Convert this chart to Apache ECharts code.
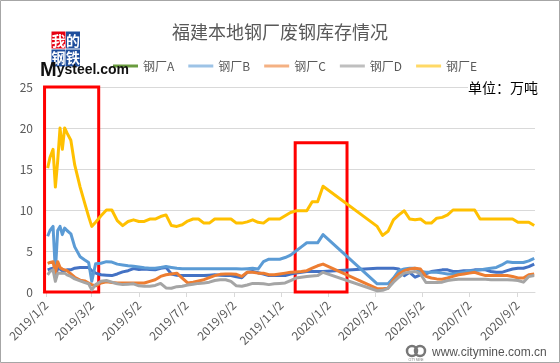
<!DOCTYPE html>
<html><head><meta charset="utf-8">
<script src="https://cdn.jsdelivr.net/npm/echarts@6/dist/echarts.min.js"></script>
<style>html,body{margin:0;padding:0;background:#fff}#c{width:560px;height:363px}</style>
</head><body><div id="c"></div>
<script>
const dates = [
 '2019-01-04','2019-01-07','2019-01-11','2019-01-14','2019-01-17','2019-01-20','2019-01-23','2019-01-26','2019-01-29','2019-02-03','2019-02-08','2019-02-15','2019-02-21','2019-02-26','2019-03-02',
 '2019-03-07','2019-03-14','2019-03-21','2019-03-28','2019-04-04','2019-04-11','2019-04-18','2019-04-25','2019-05-02','2019-05-09','2019-05-16','2019-05-23','2019-05-30','2019-06-06','2019-06-13','2019-06-20','2019-06-27','2019-07-04','2019-07-11','2019-07-18','2019-07-25','2019-08-01','2019-08-08','2019-08-15','2019-08-22','2019-08-29','2019-09-05','2019-09-12','2019-09-19','2019-09-26','2019-10-03','2019-10-10','2019-10-17','2019-10-24','2019-10-31','2019-11-07','2019-11-14','2019-11-21','2019-11-28','2019-12-05','2019-12-12','2019-12-19','2019-12-26',
 '2020-03-05','2020-03-12','2020-03-19','2020-03-26','2020-04-02','2020-04-09','2020-04-16','2020-04-23','2020-04-30','2020-05-07','2020-05-14','2020-05-21','2020-05-28','2020-06-04','2020-06-11','2020-06-18','2020-06-25','2020-07-02','2020-07-09','2020-07-16','2020-07-23','2020-07-30','2020-08-06','2020-08-13','2020-08-20','2020-08-27','2020-09-03','2020-09-10','2020-09-17','2020-09-24'
];
const seriesNames = ['钢厂A','钢厂B','钢厂C','钢厂D','钢厂E'];
const millA = [
 2.7,2.8,2.9,1.9,2.9,2.8,2.6,2.6,2.7,2.7,2.9,3.0,3.0,3.0,2.6,
 2.3,2.1,2.05,2.0,2.2,2.45,2.6,2.85,2.75,2.8,2.75,2.7,2.9,3.0,2.2,2.05,2.0,2.0,2.0,2.0,2.0,2.05,2.1,2.05,2.0,2.0,1.85,1.75,2.4,2.5,2.35,2.2,2.0,2.0,2.0,2.0,2.2,2.3,2.4,2.5,2.5,2.5,2.5,
 2.9,2.9,2.9,2.9,2.8,2.0,2.4,1.8,2.1,2.2,2.5,2.6,2.7,2.7,2.5,2.5,2.6,2.6,2.7,2.7,2.7,2.5,2.4,2.4,2.6,2.8,2.9,2.9,3.1,3.4
];
const millB = [
 6.8,7.5,8.0,2.5,7.5,8.0,7.0,7.8,7.5,7.1,5.5,4.3,3.9,3.6,1.3,
 3.45,3.5,3.7,3.65,3.4,3.3,3.2,3.15,3.05,2.95,2.9,2.9,3.0,3.1,3.0,2.9,2.85,2.85,2.85,2.85,2.85,2.85,2.85,2.85,2.85,2.85,2.85,2.8,2.85,2.9,2.8,3.7,4.0,4.0,4.0,4.2,4.5,5.0,5.5,6.0,6.0,6.0,7.0,
 1.0,1.0,1.0,1.7,2.6,2.8,2.9,2.9,2.5,2.4,2.4,2.4,2.3,2.2,2.2,2.3,2.4,2.6,2.6,2.7,2.8,2.9,3.0,3.3,3.7,3.6,3.6,3.6,3.8,4.1
];
const millC = [
 3.5,3.6,3.7,2.3,3.7,3.0,2.8,2.7,2.6,2.2,1.8,1.45,1.35,1.1,0.9,
 0.75,1.1,1.25,1.15,1.1,1.1,1.1,1.1,1.1,1.1,1.3,1.5,1.9,2.1,2.2,2.3,1.7,1.1,1.2,1.35,1.5,1.75,2.0,2.15,2.2,2.2,2.15,1.9,2.4,2.4,2.3,2.3,2.1,2.1,2.2,2.3,2.4,2.45,2.5,2.6,2.9,3.2,3.4,
 0.4,0.4,0.45,1.5,2.2,2.6,2.8,2.9,2.8,1.9,1.7,1.6,1.55,1.7,1.9,2.1,2.2,2.3,2.4,2.2,2.0,2.0,2.0,2.0,2.0,1.9,1.7,1.7,2.1,2.2
];
const millD = [
 2.1,2.5,2.7,1.3,2.3,2.3,2.3,2.3,2.1,1.9,1.6,1.35,1.15,1.0,0.25,
 0.9,1.3,1.4,1.2,1.0,0.9,0.95,1.0,0.75,0.7,0.7,0.8,1.05,0.5,0.45,0.65,0.7,0.85,0.95,1.05,1.1,1.2,1.4,1.5,1.5,1.3,0.75,0.7,0.85,1.05,1.05,1.0,0.9,1.0,1.05,1.1,1.4,1.7,1.8,1.9,1.95,2.0,2.4,
 0.15,0.2,0.45,1.2,1.8,2.3,2.4,2.5,2.2,1.15,1.15,1.15,1.2,1.4,1.5,1.55,1.55,1.55,1.55,1.55,1.55,1.5,1.5,1.5,1.5,1.45,1.4,1.2,1.9,2.0
];
const millE = [
 15.1,16.4,17.4,12.8,16.0,20.0,17.4,20.0,19.4,18.5,15.5,12.8,10.8,9.2,8.0,
 8.5,9.3,10.0,10.0,8.7,8.1,8.6,8.8,8.6,8.6,8.9,8.9,9.2,9.4,8.1,8.0,8.2,8.65,8.9,8.9,8.4,8.4,8.9,8.9,8.9,8.9,8.4,8.4,8.55,8.8,8.5,8.4,8.9,8.9,8.9,9.3,9.7,9.9,9.9,9.9,11.0,11.0,12.9,
 8.0,6.9,7.4,8.8,9.4,9.9,8.9,8.8,8.9,8.4,8.4,9.0,9.1,9.4,10.0,10.0,10.0,10.0,10.0,8.9,8.9,8.9,8.9,8.9,8.9,8.9,8.5,8.5,8.5,8.1
];
const tickLabels = ['2019/1/2','2019/3/2','2019/5/2','2019/7/2','2019/9/2','2019/11/2','2020/1/2','2020/3/2','2020/5/2','2020/7/2','2020/9/2'];
const yTicks = [0,5,10,15,20,25];

const lineColors = ['#4472C4','#5B9BD5','#ED7D31','#A5A5A5','#FFC000'];
const legendColors = ['#6A9C3F','#9DC3E6','#F4B183','#BFBFBF','#FFD966'];
const values = [millA, millB, millC, millD, millE];

const chart = echarts.init(document.getElementById('c'), null, {renderer:'canvas'});
const ts = s => echarts.number.parseDate(s.replace(/\//g,'-')).getTime();
const tickValues = tickLabels.map(ts);
const FONT = '"Noto Sans CJK SC", "Noto Sans", sans-serif';

const series = seriesNames.map((n, i) => ({
  name: n, type: 'line', showSymbol: false, symbol: 'none',
  data: dates.map((d, j) => [ts(d), values[i][j]]),
  lineStyle: {color: lineColors[i], width: 3, join: 'round'},
  itemStyle: {color: lineColors[i]},
  z: 2 + i,
  animation: false
}));
series[4].clip = false;
series[4].markArea = {
  silent: true,
  label: {show: false},
  itemStyle: {color: 'rgba(0,0,0,0)', borderColor: '#FF0000', borderWidth: 3},
  data: [
    [{xAxis: ts('2018-12-31'), yAxis: 25.2}, {xAxis: ts('2019-03-11'), yAxis: 0}],
    [{xAxis: ts('2019-11-20'), yAxis: 18.2}, {xAxis: ts('2020-01-26'), yAxis: 0}]
  ]
};

chart.setOption({
  animation: false,
  backgroundColor: '#fff',
  title: {
    text: '福建本地钢厂废钢库存情况', left: 'center', top: 23, padding: 0,
    textStyle: {fontSize: 18, fontWeight: 'normal', color: '#595959', fontFamily: FONT}
  },
  legend: {
    left: 113, top: 60, padding: 0, icon: 'rect', itemWidth: 25, itemHeight: 3, itemGap: 14,
    textStyle: {fontSize: 12, color: '#595959', fontFamily: FONT},
    data: seriesNames.map((n, i) => ({name: n, itemStyle: {color: legendColors[i]}, lineStyle: {color: legendColors[i]}}))
  },
  grid: {left: 43, right: 25, top: 87, bottom: 71, containLabel: false},
  xAxis: {
    type: 'value', min: ts('2018-12-29'), max: ts('2020-09-25'),
    axisLine: {show: true, lineStyle: {color: '#D9D9D9', width: 1}},
    axisTick: {show: true, customValues: tickValues, length: 5, lineStyle: {color: '#D9D9D9'}},
    splitLine: {show: false},
    axisLabel: {
      customValues: tickValues, rotate: 45, margin: 11, fontSize: 12, color: '#595959', fontFamily: FONT,
      formatter: function (v) { const d = new Date(v); return d.getFullYear() + '/' + (d.getMonth() + 1) + '/' + d.getDate(); }
    }
  },
  yAxis: {
    type: 'value', min: yTicks[0], max: yTicks[yTicks.length - 1], interval: 5,
    axisLine: {show: false}, axisTick: {show: false},
    splitLine: {lineStyle: {color: '#D9D9D9', width: 1}},
    axisLabel: {margin: 10, fontSize: 12, color: '#595959', fontFamily: FONT}
  },
  graphic: [
    {type: 'rect', shape: {x: 0.5, y: 0.5, width: 559, height: 362}, style: {fill: 'none', stroke: '#A6A6A6', lineWidth: 1}, z: 100},
    {type: 'text', left: 468, top: 81, style: {text: '单位：万吨', fontSize: 14, fill: '#000', fontFamily: FONT, backgroundColor: '#fff'}, z: 50},
    {type: 'rect', shape: {x: 51.5, y: 31.5, width: 14, height: 17}, style: {fill: '#E60012'}, z: 60},
    {type: 'rect', shape: {x: 66, y: 31.5, width: 14, height: 17}, style: {fill: '#1F4E9C'}, z: 60},
    {type: 'rect', shape: {x: 51.5, y: 49.5, width: 14, height: 17}, style: {fill: '#1F4E9C'}, z: 60},
    {type: 'rect', shape: {x: 66, y: 49.5, width: 14, height: 17}, style: {fill: '#1F4E9C'}, z: 60},
    {type: 'text', x: 58.5, y: 40.5, style: {text: '我', fontSize: 14, fontWeight: 'bold', fill: '#fff', align: 'center', verticalAlign: 'middle', fontFamily: FONT}, z: 61},
    {type: 'text', x: 73, y: 40.5, style: {text: '的', fontSize: 14, fontWeight: 'bold', fill: '#fff', align: 'center', verticalAlign: 'middle', fontFamily: FONT}, z: 61},
    {type: 'text', x: 58.5, y: 58, style: {text: '钢', fontSize: 14, fontWeight: 'bold', fill: '#fff', align: 'center', verticalAlign: 'middle', fontFamily: FONT}, z: 61},
    {type: 'text', x: 73, y: 58, style: {text: '铁', fontSize: 14, fontWeight: 'bold', fill: '#fff', align: 'center', verticalAlign: 'middle', fontFamily: FONT}, z: 61},
    {type: 'text', x: 40, y: 80, style: {
      text: '{a|M}{b|ysteel.com}', verticalAlign: 'bottom',
      rich: {a: {fontSize: 20, fontWeight: 'bold', fill: '#111', fontFamily: 'Liberation Sans'}, b: {fontSize: 14, fontWeight: 'bold', fill: '#111', fontFamily: 'Liberation Sans'}}
    }, z: 62},
    {type: 'circle', shape: {cx: 412, cy: 351, r: 5}, style: {fill: 'none', stroke: '#777', lineWidth: 2.5}, z: 60},
    {type: 'circle', shape: {cx: 420, cy: 351, r: 5}, style: {fill: 'none', stroke: '#777', lineWidth: 2.5}, z: 60},
    {type: 'text', x: 416, y: 360, style: {text: 'CITY MINE', fontSize: 3, fill: '#777', align: 'center', verticalAlign: 'middle', fontFamily: 'Liberation Sans'}, z: 60},
    {type: 'text', x: 432, y: 353, style: {text: 'www.citymine.com.cn', fontSize: 12, fill: '#555', verticalAlign: 'middle', fontFamily: 'Liberation Sans'}, z: 60}
  ],
  series: series
});
</script></body></html>
